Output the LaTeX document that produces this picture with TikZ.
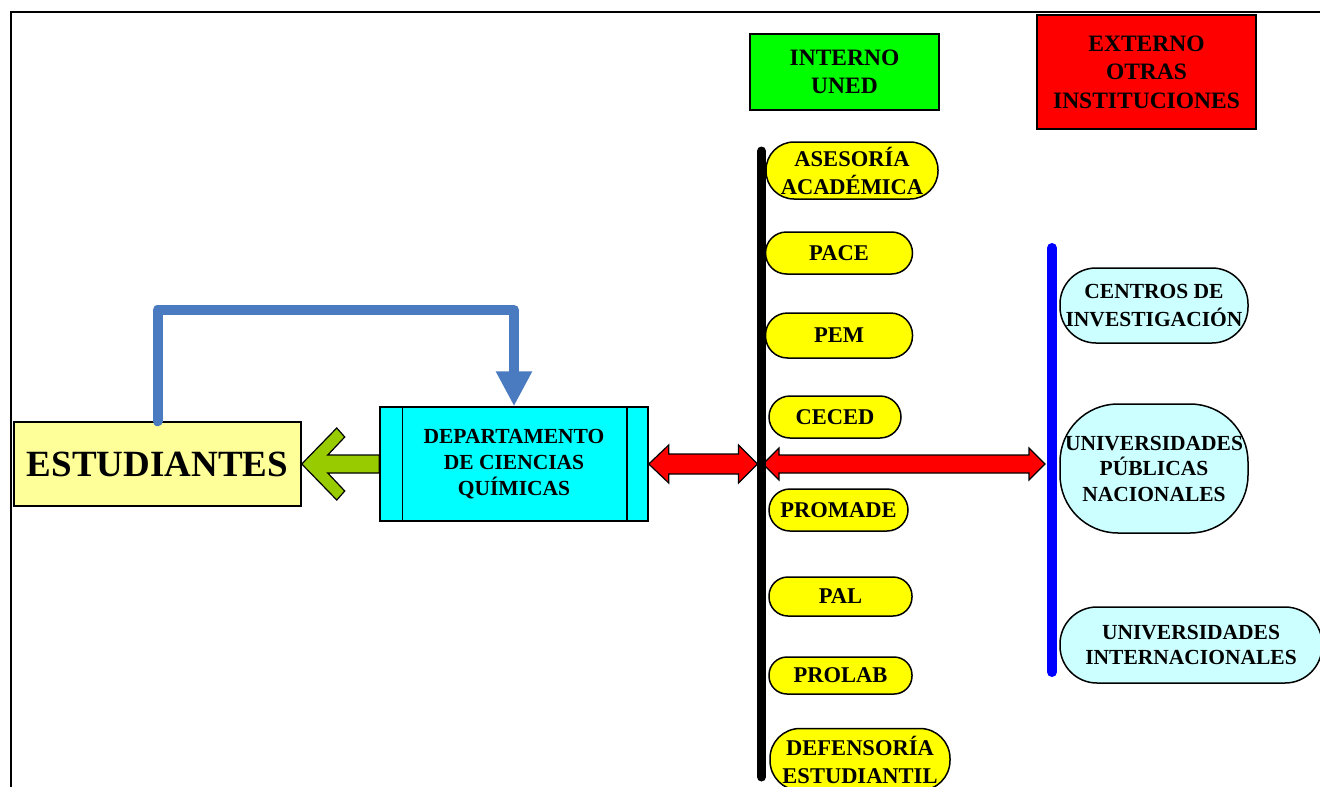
\documentclass[tikz,border=0pt]{standalone}
\usepackage{fontspec}
\setmainfont{Liberation Serif}
\usetikzlibrary{arrows.meta,calc}
\definecolor{studfill}{RGB}{255,255,153}
\definecolor{deptfill}{RGB}{0,255,255}
\definecolor{intfill}{RGB}{0,255,0}
\definecolor{extfill}{RGB}{255,0,0}
\definecolor{yelfill}{RGB}{255,255,0}
\definecolor{cyanfill}{RGB}{204,255,255}
\definecolor{arrgreen}{RGB}{153,204,0}
\definecolor{conblue}{RGB}{74,123,192}
\definecolor{barblue}{RGB}{0,0,255}
\begin{document}
\begin{tikzpicture}[x=1pt,y=-1pt,
  box/.style={draw=black, line width=1.5pt, inner sep=0pt, align=center,
    font=\bfseries\fontsize{22.5pt}{28pt}\selectfont},
  pillbox/.style={box, fill=yelfill},
  extbox/.style={box, fill=cyanfill, font=\bfseries\fontsize{21.5pt}{28pt}\selectfont},
  fatred/.style={draw=black, line width=1.2pt, fill=extfill, line join=miter},
  fatgreen/.style={draw=black, line width=1.2pt, fill=arrgreen, line join=miter},
  bluecon/.style={draw=conblue, line width=10pt, line cap=round, line join=round,
    -{Triangle[width=34pt,length=35pt]}},
  blackbar/.style={draw=black, line width=9pt, line cap=round},
  bluebar/.style={draw=barblue, line width=10pt, line cap=round}]
\useasboundingbox (0,0) rectangle (1320,787);
\fill[white] (0,0) rectangle (1320,787);
% frame
\draw[line width=2pt] (10.5,790) -- (10.5,12) -- (1322,12);

% left part
\node[box, fill=studfill, minimum width=287pt, minimum height=84pt,
  font=\bfseries\fontsize{37pt}{40pt}\selectfont] (stud) at (157.5,464) {ESTUDIANTES};
\node[box, fill=deptfill, minimum width=268pt, minimum height=114pt,
  font=\bfseries\fontsize{21.5pt}{26pt}\selectfont] (dept) at (514,464)
  {DEPARTAMENTO\\DE CIENCIAS\\QUÍMICAS};
\draw[line width=1.5pt] ([xshift=23pt]dept.north west) -- ([xshift=23pt]dept.south west);
\draw[line width=1.5pt] ([xshift=-22pt]dept.north east) -- ([xshift=-22pt]dept.south east);

% headers
\node[box, fill=intfill, minimum width=189pt, minimum height=76pt,
  font=\bfseries\fontsize{23.5pt}{28pt}\selectfont] (int) at (844.5,72) {INTERNO\\UNED};
\node[box, fill=extfill, minimum width=219pt, minimum height=114pt,
  font=\bfseries\fontsize{23.5pt}{28.5pt}\selectfont] (ext) at (1146.5,72) {EXTERNO\\OTRAS\\INSTITUCIONES};

% internal units
\node[pillbox, rounded corners=28pt, minimum width=172pt, minimum height=57pt] (ases) at (852,170.5) {ASESORÍA\\ACADÉMICA};
\node[pillbox, rounded corners=21pt, minimum width=147pt, minimum height=42pt] (pace) at (839,253) {PACE};
\node[pillbox, rounded corners=22pt, minimum width=147pt, minimum height=45pt] (pem) at (839,335.5) {PEM};
\node[pillbox, rounded corners=21pt, minimum width=132pt, minimum height=42pt] (ceced) at (835,417) {CECED};
\node[pillbox, rounded corners=21pt, minimum width=139pt, minimum height=42pt] (promade) at (838.5,510) {PROMADE};
\node[pillbox, rounded corners=19pt, minimum width=143pt, minimum height=39pt] (pal) at (840.5,596.5) {PAL};
\node[pillbox, rounded corners=18pt, minimum width=143pt, minimum height=37pt] (prolab) at (840.5,675.5) {PROLAB};
\node[pillbox, rounded corners=30pt, minimum width=180pt, minimum height=62pt] (def) at (860,759.5) {DEFENSORÍA\\ESTUDIANTIL};

% external institutions
\node[extbox, rounded corners=36pt, minimum width=188pt, minimum height=75pt] (cent) at (1154,305.5) {CENTROS DE\\INVESTIGACIÓN};
\node[extbox, rounded corners=58pt, minimum width=188pt, minimum height=129pt,
  font=\bfseries\fontsize{21.5pt}{25.5pt}\selectfont] (pub) at (1154,468.5) {UNIVERSIDADES\\PÚBLICAS\\NACIONALES};
\node[extbox, rounded corners=37pt, minimum width=262pt, minimum height=76pt,
  font=\bfseries\fontsize{21.5pt}{25pt}\selectfont] (intl) at (1191,645) {UNIVERSIDADES\\INTERNACIONALES};

% coordinates on the bars
\coordinate (bltop) at (761.5,151);
\coordinate (blbot) at (761.5,777);
\coordinate (blw) at (757.5,464);
\coordinate (ble) at (763,464);
\coordinate (butop) at (1052,248);
\coordinate (bubot) at (1052,672);
\coordinate (buw) at (1045,464);
\coordinate (bluetop) at (335,310);

% blue feedback connector
\draw[bluecon] (stud.north) |- (bluetop) -| (dept.north);

% green arrow
\draw[fatgreen] let \p1=(dept.west), \p2=(stud.east) in
  (\x2,\y2) -- (\x2+35pt,\y2+36pt) -- (\x2+43pt,\y2+27pt) -- (\x2+26pt,\y2+9pt)
  -- (\x1,\y2+9pt) -- (\x1,\y2-9pt) -- (\x2+26pt,\y2-9pt) -- (\x2+43pt,\y2-27pt)
  -- (\x2+35pt,\y2-36pt) -- cycle;

% red double arrows
\draw[fatred] let \p1=(dept.east), \p2=(blw) in
  (\x1,\y1) -- (\x1+20pt,\y1+19pt) -- (\x1+20pt,\y1+10pt) -- (\x2-19pt,\y1+10pt)
  -- (\x2-19pt,\y1+19pt) -- (\x2,\y1) -- (\x2-19pt,\y1-19pt) -- (\x2-19pt,\y1-10pt)
  -- (\x1+20pt,\y1-10pt) -- (\x1+20pt,\y1-19pt) -- cycle;
\draw[fatred] let \p1=(ble), \p2=(buw) in
  (\x1,\y1) -- (\x1+16pt,\y1+16pt) -- (\x1+16pt,\y1+9pt) -- (\x2-16pt,\y1+9pt)
  -- (\x2-16pt,\y1+16pt) -- (\x2,\y1) -- (\x2-16pt,\y1-16pt) -- (\x2-16pt,\y1-9pt)
  -- (\x1+16pt,\y1-9pt) -- (\x1+16pt,\y1-16pt) -- cycle;

% bars
\draw[blackbar] (bltop) -- (blbot);
\draw[bluebar] (butop) -- (bubot);
\end{tikzpicture}
\end{document}
